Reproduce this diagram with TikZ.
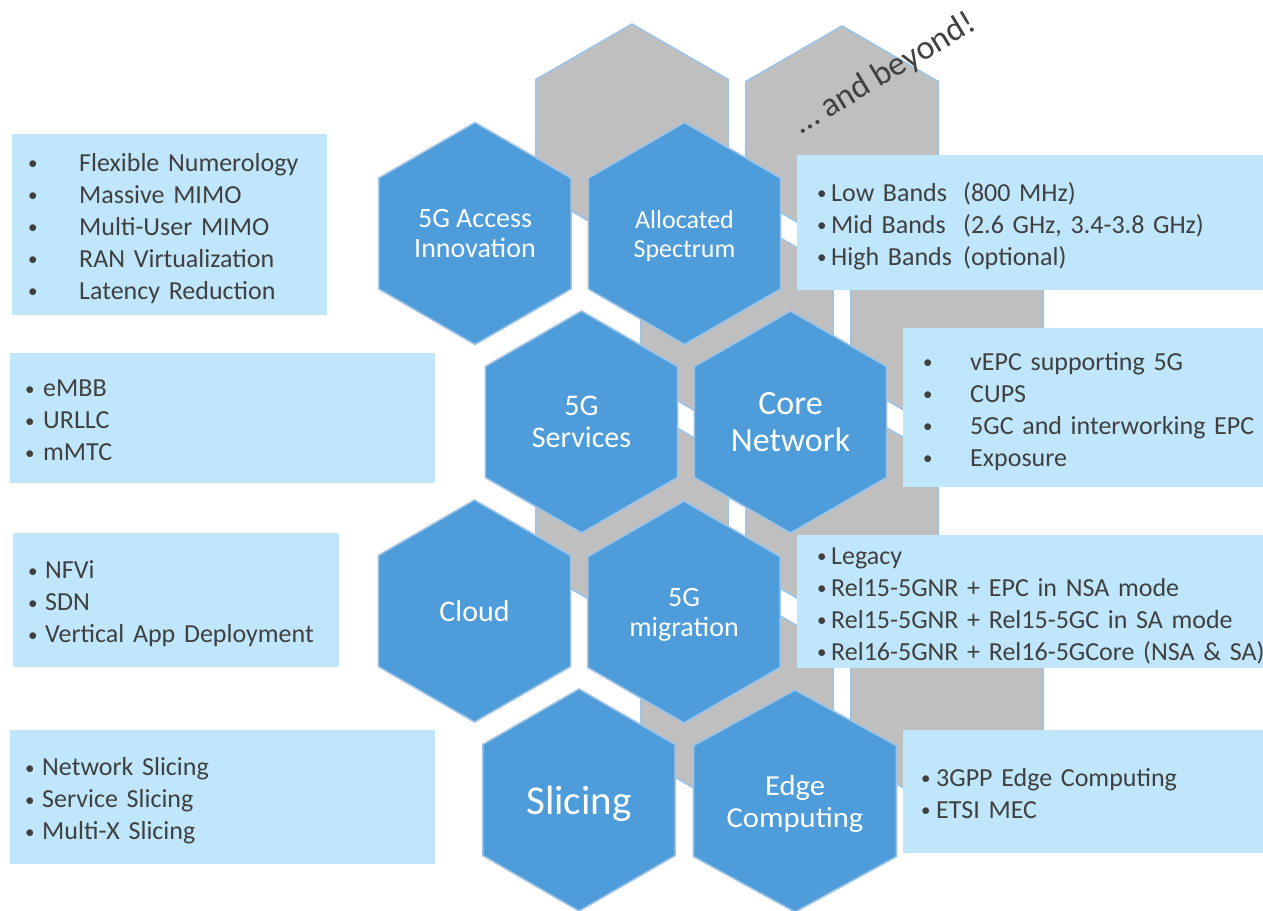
\documentclass[tikz,border=0pt]{standalone}
\usepackage{fontspec}
\setmainfont{Carlito}
\usetikzlibrary{shapes.geometric}
\definecolor{hexblue}{HTML}{4E9DDA}
\definecolor{hexrim}{HTML}{9DC3E6}
\definecolor{backgray}{HTML}{BFBFBF}
\definecolor{boxblue}{HTML}{BFE6FB}
\definecolor{ink}{HTML}{404040}
% bullet of a list line, in a box of the given width
\newcommand{\bul}[1]{\rule[-5.6pt]{0pt}{32pt}%
  \makebox[#1][l]{\raisebox{1.5pt}{\fontsize{19}{19}\selectfont\textbullet}}}
\tikzset{
  hexcell/.style={regular polygon, regular polygon sides=6, shape border rotate=30,
    minimum size=222pt, inner sep=0pt, draw=hexrim, line width=1.6pt},
  bluehex/.style={hexcell, fill=hexblue, text=white, align=center, text depth=0pt},
  grayhex/.style={hexcell, fill=backgray},
  hexfont/.style 2 args={font=\fontsize{#1}{#2}\selectfont},
  infobox/.style={fill=boxblue, anchor=north west, align=left, inner ysep=0pt,
    text=ink, font=\fontsize{26}{32}\selectfont}
}

\begin{document}
\begin{tikzpicture}[x=1pt,y=-1pt]
\useasboundingbox (0,0) rectangle (1263,910);

% Gray honeycomb behind the blue cells
\foreach \gx/\gy [count=\i] in {632/135,842/137,737/324,947/324,
  632/513,842/513,737/702,947/702}
  \node[grayhex] (g\i) at (\gx,\gy) {};

% Blue cells
\node[bluehex, hexfont={28}{30}] (access) at (475,233.5) {5G Access\\Innovation};
\node[bluehex, hexfont={26}{29}] (spectrum) at (684.5,233.5) {Allocated\\Spectrum};
\node[bluehex, hexfont={30}{32}] (services) at (581.5,422) {5G\\Services};
\node[bluehex, hexfont={34}{37}] (core) at (790.5,422) {Core\\Network};
\node[bluehex, hexfont={30}{32}] (cloud) at (474.5,611) {Cloud};
\node[bluehex, hexfont={28}{30}] (migration) at (684,612) {5G\\migration};
\node[bluehex, hexfont={41}{44}] (slicing) at (579,800) {Slicing};
\begin{scope}[shift={(795,801)}, xscale=1.056]
  \node[bluehex, transform shape, hexfont={29}{32}] (edge) at (0,0) {Edge\\Computing};
\end{scope}

\node[rotate=31, text=ink, hexfont={34}{36}] (beyond) at (885,74) {… and beyond!};

% Left-hand lists
\node[infobox, minimum height=181pt, inner xsep=16pt, text width=283pt] (ranbox) at (12,134)
  {\bul{51pt}Flexible Numerology\\ \bul{51pt}Massive MIMO\\ \bul{51pt}Multi-User MIMO\\
   \bul{51pt}RAN Virtualization\\ \bul{51pt}Latency Reduction};
\node[infobox, minimum height=130pt, inner xsep=15pt, text width=395pt] (svcbox) at (10,353)
  {\bul{18pt}eMBB\\ \bul{18pt}URLLC\\ \bul{18pt}mMTC};
\node[infobox, minimum height=134pt, inner xsep=15pt, text width=296pt] (cloudbox) at (13,533)
  {\bul{17pt}NFVi\\ \bul{17pt}SDN\\ \bul{17pt}Vertical App Deployment};
\node[infobox, minimum height=134pt, inner xsep=15pt, text width=395pt] (slicebox) at (10,730)
  {\bul{17pt}Network Slicing\\ \bul{17pt}Service Slicing\\ \bul{17pt}Multi-X Slicing};

% Right-hand lists (they run off the right edge)
\node[infobox, minimum height=135pt, inner xsep=20pt, text width=480pt] (bandbox) at (797,155)
  {\bul{14pt}\makebox[132pt][l]{Low Bands}(800 MHz)\\
   \bul{14pt}\makebox[132pt][l]{Mid Bands}(2.6 GHz, 3.4-3.8 GHz)\\
   \bul{14pt}\makebox[132pt][l]{High Bands}(optional)};
\node[infobox, minimum height=159pt, inner xsep=20pt, text width=400pt] (corebox) at (903,328)
  {\bul{47pt}vEPC supporting 5G\\ \bul{47pt}CUPS\\
   \bul{47pt}5GC and interworking EPC\\ \bul{47pt}Exposure};
\node[infobox, minimum height=133pt, inner xsep=20pt, text width=480pt] (migbox) at (797,535)
  {\bul{14pt}Legacy\\ \bul{14pt}Rel15-5GNR + EPC in NSA mode\\
   \bul{14pt}Rel15-5GNR + Rel15-5GC in SA mode\\
   \bul{14pt}Rel16-5GNR + Rel16-5GCore (NSA \& SA)};
\node[infobox, minimum height=123pt, inner xsep=18pt, text width=400pt] (edgebox) at (903,730)
  {\bul{15pt}3GPP Edge Computing\\ \bul{15pt}ETSI MEC};
\end{tikzpicture}
\end{document}
